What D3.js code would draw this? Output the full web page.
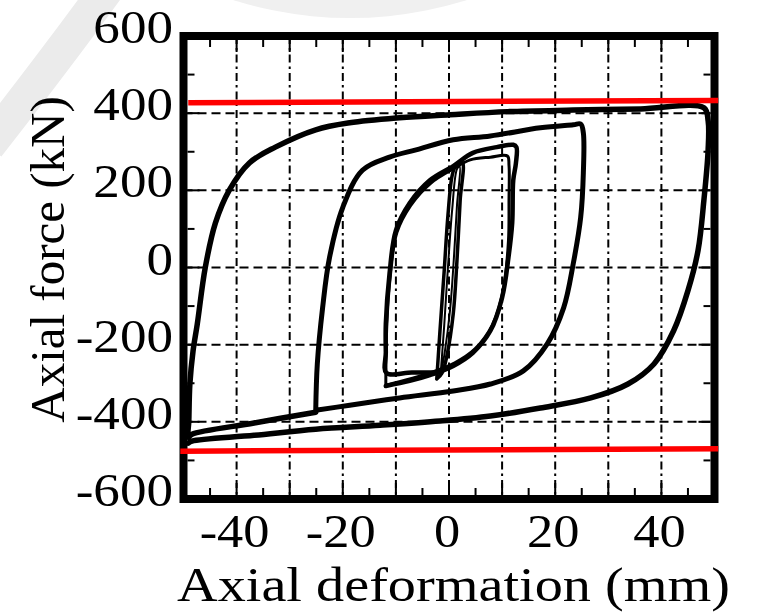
<!DOCTYPE html>
<html><head><meta charset="utf-8">
<script src="https://cdn.jsdelivr.net/npm/d3@7"></script>
<style>html,body{margin:0;padding:0;background:#fff;} svg{display:block;}</style>
</head><body>
<svg id="c" width="761" height="612"></svg>
<script>
// ---------- data ----------
const xTickLabels = [-40, -20, 0, 20, 40];
const yTickLabels = [-600, -400, -200, 0, 200, 400, 600];
const xGridValues = [-40, -30, -20, -10, 0, 10, 20, 30, 40];
const yGridValues = [-400, -200, 0, 200, 400];
const xTitle = "Axial deformation (mm)";
const yTitle = "Axial force (kN)";

// small cycles (about ±3 mm)
const cycleSmallA = [[-2.3,-289],[-1.7,-164],[-0.9,-8],[-0.2,135],[0.6,239],[1.3,265],[2.5,273],[2.1,174],[1.5,18],[0.8,-120],[-0.4,-229],[-1.3,-273],[-2.3,-289]];
const cycleSmallB = [[-1.6,-280],[-0.9,-150],[-0.2,0],[0.6,150],[1.5,255],[2.0,262],[1.5,160],[0.9,20],[0.2,-110],[-0.8,-220],[-1.6,-280]];
// ±12 mm cycles
const cycle12A = [[-2.3,-272],[-7,-272],[-11.8,-273],[-11.9,-220],[-11.9,-146],[-11.2,-16],[-10.0,96],[-7.4,167],[-3.6,226],[0.8,263],[4.5,297],[9,312],[12.1,318],[12.7,312],[12.6,270],[12.1,226],[11.9,115],[11.2,26],[10.0,-78],[7.8,-164],[4.5,-221],[0.8,-255],[-3.6,-279],[-7.4,-294],[-11.9,-307]];
const cycle12B = [[-11.9,-305],[-11.7,-146],[-11.0,-16],[-9.8,91],[-7.2,161],[-3.4,219],[1.1,258],[4.0,279],[7.8,286],[11.0,289],[11.3,265],[11.3,174],[11.2,70],[10.2,-60],[8.1,-151],[4.9,-211],[1.1,-247],[-3.6,-273],[-11.9,-305]];
// ±25 mm cycle
const cycle25 = [[-25.1,-372],[-24.8,-250],[-23.8,-104],[-22.5,26],[-20.0,156],[-16.3,252],[-11.2,286],[-6.2,305],[0.8,331],[7.8,341],[17.2,362],[23.4,370],[24.8,372],[25.3,349],[25.3,245],[24.8,130],[23.4,10],[21.6,-104],[18.5,-198],[14.0,-268],[7.8,-302],[0.8,-320],[-9.3,-338],[-18.7,-357],[-25.1,-370]];
// ±50 mm cycle
const cycle50 = [[-25.1,-375],[-36.7,-403],[-48.4,-432],[-49.1,-440],[-49.0,-398],[-48.8,-302],[-48.2,-216],[-47.4,-146],[-45.9,0],[-44.0,115],[-41.4,200],[-37.6,271],[-32.7,312],[-25.1,357],[-18.7,375],[-9.3,388],[0.2,396],[11.0,404],[23.4,408],[36.1,411],[48.0,414],[48.8,380],[48.8,305],[48.0,174],[46.9,44],[45.0,-60],[42.3,-164],[38.6,-250],[33.7,-302],[26.7,-338],[17.2,-364],[7.8,-385],[-1.7,-398],[-13.0,-409],[-25.1,-419],[-36.7,-435],[-48.4,-450],[-49.1,-455]];
// red reference lines
const redUpper = [[-49.1,427],[50.7,433]];
const redLower = [[-50.6,-476],[50.7,-470]];

// ---------- drawing ----------
const svg = d3.select("#c");
const x = d3.scaleLinear().domain([-50, 50]).range([183.5, 714.5]);
const y = d3.scaleLinear().domain([-600, 600]).range([499, 36]);
const serif = "'Liberation Serif','Times New Roman',Times,serif";

// faint watermark
svg.append("path").attr("d", "M112,-18 Q60,54 -12,146")
  .attr("fill", "none").attr("stroke", "#ebebeb").attr("stroke-width", 34);
svg.append("circle").attr("cx", 350).attr("cy", -371).attr("r", 389).attr("fill", "#f0f0f0");

// gridlines
svg.append("g").selectAll("line").data(xGridValues).join("line")
  .attr("x1", d => x(d)).attr("x2", d => x(d)).attr("y1", y(600)).attr("y2", y(-600))
  .attr("stroke", "#000").attr("stroke-width", 2).attr("stroke-dasharray", "8,4,2.5,4");
svg.append("g").selectAll("line").data(yGridValues).join("line")
  .attr("y1", d => y(d)).attr("y2", d => y(d)).attr("x1", x(-50)).attr("x2", x(50))
  .attr("stroke", "#000").attr("stroke-width", 2).attr("stroke-dasharray", "9,5");

// ticks (inward)
const ticksG = svg.append("g").attr("stroke", "#000").attr("stroke-width", 2);
const xMinor = d3.range(-45, 50, 5);
xMinor.forEach(v => {
  const len = (v % 10 === 0) ? 12 : 7;
  ticksG.append("line").attr("x1", x(v)).attr("x2", x(v)).attr("y1", y(-600) - 4).attr("y2", y(-600) - 4 - len);
  ticksG.append("line").attr("x1", x(v)).attr("x2", x(v)).attr("y1", y(600) + 4).attr("y2", y(600) + 4 + len);
});
const yMinor = d3.range(-500, 600, 100);
yMinor.forEach(v => {
  const len = (v % 200 === 0) ? 12 : 7;
  ticksG.append("line").attr("y1", y(v)).attr("y2", y(v)).attr("x1", x(-50) + 4).attr("x2", x(-50) + 4 + len);
  ticksG.append("line").attr("y1", y(v)).attr("y2", y(v)).attr("x1", x(50) - 4).attr("x2", x(50) - 4 - len);
});

// hysteresis curves
const line = d3.line().x(d => x(d[0])).y(d => y(d[1])).curve(d3.curveCatmullRom.alpha(0.5));
const curves = [
  {d: cycle50, w: 5.5},
  {d: cycle25, w: 5},
  {d: cycle12A, w: 4.5},
  {d: cycle12B, w: 3},
  {d: cycleSmallA, w: 3.5},
  {d: cycleSmallB, w: 2}
];
svg.append("g").selectAll("path").data(curves).join("path")
  .attr("d", c => line(c.d)).attr("fill", "none").attr("stroke", "#000")
  .attr("stroke-width", c => c.w).attr("stroke-linejoin", "round").attr("stroke-linecap", "round");

// frame
svg.append("rect").attr("x", x(-50)).attr("y", y(600))
  .attr("width", x(50) - x(-50)).attr("height", y(-600) - y(600))
  .attr("fill", "none").attr("stroke", "#000").attr("stroke-width", 8);

// red lines
const straight = d3.line().x(d => x(d[0])).y(d => y(d[1]));
[redUpper, redLower].forEach(r => {
  svg.append("path").attr("d", straight(r)).attr("stroke", "#ff0000").attr("stroke-width", 5.5).attr("fill", "none");
});

// tick labels
svg.append("g").selectAll("text").data(yTickLabels).join("text")
  .attr("transform", d => `translate(${x(-50) - 10.5},${y(d) + 7}) scale(1.13,1)`)
  .attr("text-anchor", "end").attr("font-family", serif).attr("font-size", 47).attr("fill", "#000")
  .text(d => d);
svg.append("g").selectAll("text").data(xTickLabels).join("text")
  .attr("transform", d => `translate(${x(d) - 2},547) scale(1.14,1)`)
  .attr("text-anchor", "middle").attr("font-family", serif).attr("font-size", 46).attr("fill", "#000")
  .text(d => d);

// axis titles
svg.append("text").attr("transform", "translate(453.5,601) scale(1.148,1)")
  .attr("text-anchor", "middle").attr("font-family", serif).attr("font-size", 49).attr("fill", "#000")
  .text(xTitle);
svg.append("text").attr("transform", "translate(64,259.5) rotate(-90)")
  .attr("text-anchor", "middle").attr("font-family", serif).attr("font-size", 49).attr("fill", "#000")
  .text(yTitle);
</script>
</body></html>
